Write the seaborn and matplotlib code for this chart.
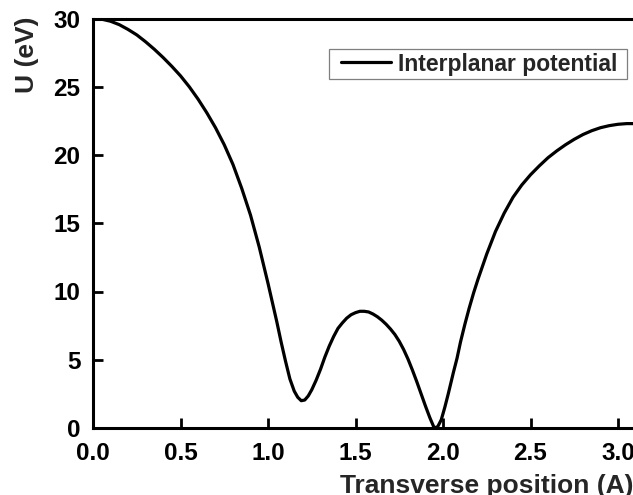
import numpy as np
import pandas as pd
import matplotlib
matplotlib.use("Agg")
import matplotlib.pyplot as plt
from matplotlib.patches import Rectangle
import seaborn as sns

# ---- data ----
position = [0.00, 0.05, 0.10, 0.15, 0.20, 0.25, 0.30, 0.35, 0.40, 0.45,
            0.50, 0.55, 0.60, 0.65, 0.70, 0.75, 0.80, 0.85, 0.90, 0.95,
            1.00, 1.025, 1.05, 1.075, 1.10, 1.125, 1.15, 1.17, 1.19, 1.21,
            1.23, 1.25, 1.275, 1.30, 1.325, 1.35, 1.375, 1.40, 1.425, 1.45,
            1.475, 1.50, 1.525, 1.55, 1.575, 1.60, 1.625, 1.65, 1.675, 1.70,
            1.725, 1.75, 1.775, 1.80, 1.825, 1.85, 1.875, 1.90, 1.925, 1.95,
            1.97, 1.99, 2.01, 2.03, 2.06, 2.08, 2.10, 2.125, 2.15, 2.175,
            2.20, 2.25, 2.30, 2.35, 2.40, 2.45, 2.50, 2.55, 2.60, 2.65,
            2.70, 2.75, 2.80, 2.85, 2.90, 2.95, 3.00, 3.05, 3.10, 3.15]
potential = [30.0, 29.95, 29.8, 29.55, 29.2, 28.8, 28.3, 27.75, 27.15, 26.5,
             25.8, 25.0, 24.1, 23.1, 22.0, 20.75, 19.3, 17.55, 15.6, 13.25,
             10.6, 9.2, 7.8, 6.3, 4.9, 3.6, 2.7, 2.25, 2.0, 2.05,
             2.35, 2.8, 3.5, 4.3, 5.2, 6.0, 6.7, 7.3, 7.7, 8.05,
             8.3, 8.45, 8.55, 8.55, 8.5, 8.35, 8.15, 7.9, 7.6, 7.25,
             6.85, 6.35, 5.75, 5.05, 4.25, 3.4, 2.5, 1.6, 0.75, 0.0,
             0.1, 0.6, 1.5, 2.5, 4.1, 5.1, 6.3, 7.6, 8.8, 9.9,
             10.9, 12.75, 14.4, 15.75, 16.9, 17.8, 18.55, 19.2, 19.8, 20.3,
             20.75, 21.15, 21.5, 21.78, 22.0, 22.15, 22.25, 22.3, 22.3, 22.3]
series_label = "Interplanar potential"
xtick_values = [0.0, 0.5, 1.0, 1.5, 2.0, 2.5, 3.0, 3.5]
xtick_labels = ["0.0", "0.5", "1.0", "1.5", "2.0", "2.5", "3.0", "3.5"]
ytick_values = [0, 5, 10, 15, 20, 25, 30]
ytick_labels = ["0", "5", "10", "15", "20", "25", "30"]
x_label = "Transverse position (A)"
y_label = "U (eV)"

df = pd.DataFrame({"x": position, "U": potential})

sns.set_style("ticks")
plt.rcParams["font.family"] = ["Liberation Sans", "DejaVu Sans"]
plt.rcParams["font.weight"] = "bold"

W, H = 633, 495
fig = plt.figure(figsize=(W / 100, H / 100), dpi=100)
# axes extend past the right edge of the picture (cropped look)
ax = fig.add_axes([93 / W, 67 / H, 612.5 / W, (428 - 18.5) / H])

sns.lineplot(data=df, x="x", y="U", ax=ax, color="black", linewidth=2.3,
             estimator=None, label=series_label)
for ln in ax.get_lines():
    ln.set_solid_joinstyle("round")

ax.set_xlim(0, 3.5)
ax.set_ylim(0, 30)
ax.set_xticks(xtick_values)
ax.set_xticklabels(xtick_labels)
ax.set_yticks(ytick_values)
ax.set_yticklabels(ytick_labels)
ax.set_xlabel("")
ax.set_ylabel("")
ax.tick_params(direction="in", length=7, width=2, labelsize=17.5,
               colors="black")
ax.tick_params(axis="x", pad=10)
ax.tick_params(axis="y", pad=9)
for s in ax.spines.values():
    s.set_linewidth(2.2)
    s.set_color("black")

leg = ax.legend(loc="center left", bbox_to_anchor=(341 / W, 1 - 64 / H),
                bbox_transform=fig.transFigure, frameon=False, borderpad=0,
                borderaxespad=0, handlelength=2.2, handletextpad=0.28,
                prop={"size": 16.5, "weight": "bold"})
fig.add_artist(Rectangle((329 / W, 1 - 78.5 / H), 298 / W, 29.5 / H,
                         transform=fig.transFigure, fill=False,
                         edgecolor="#7f7f7f", linewidth=0.9))

fig.text(27 / W, 1 - 55 / H, y_label, rotation=90, ha="center", va="center",
         fontsize=19, fontweight="bold")
fig.text(340 / W, 1 - 493 / H, x_label, ha="left", va="baseline",
         fontsize=19, fontweight="bold")

fig.savefig("out.png", dpi=100)
